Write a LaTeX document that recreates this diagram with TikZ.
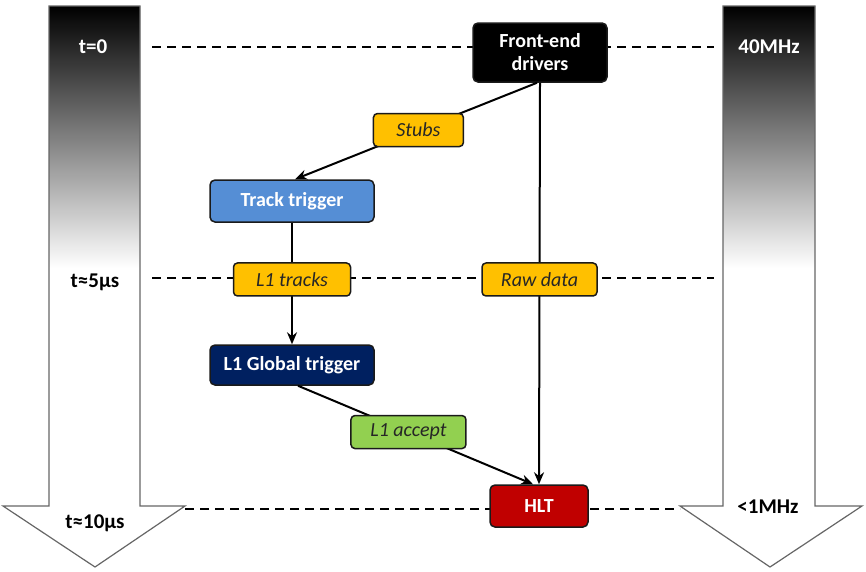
\documentclass[tikz,border=0pt]{standalone}
\usepackage{fontspec}
\setmainfont{Carlito}
\usetikzlibrary{arrows.meta,calc}
\definecolor{labY}{HTML}{FFC000}
\definecolor{labG}{HTML}{92D050}
\definecolor{ttBlue}{HTML}{558ED5}
\definecolor{navy}{HTML}{002060}
\definecolor{hltRed}{HTML}{C00000}
\definecolor{edge}{HTML}{1A1A1A}
\tikzset{
  box/.style={draw=edge, line width=1.5pt, rounded corners=5pt, align=center,
    text=white, font=\fontsize{20}{22}\selectfont\bfseries, inner sep=0pt},
  lab/.style={draw=edge, line width=1.5pt, rounded corners=4pt, fill=labY,
    text=black!85, font=\fontsize{20}{22}\selectfont\itshape, inner sep=0pt,
    minimum height=33pt},
  conn/.style={line width=2pt, draw=black},
  arr/.style={conn, -{Stealth[length=12pt,width=10pt]}},
  tdash/.style={line width=2pt, dash pattern=on 9pt off 6pt},
  bigarrow/.style={draw=black!60, line width=1.2pt, line join=miter},
  tlab/.style={font=\fontsize{21}{24}\selectfont\bfseries, inner sep=0pt}
}
\begin{document}
\begin{tikzpicture}[x=1pt,y=-1pt]
\useasboundingbox (0,0) rectangle (866,571);
% left time arrow
\fill[white] (49,6) -- (140,6) -- (140,506) -- (185,506) -- (95,567) -- (3,506) -- (49,506) -- cycle;
\shade[top color=black, bottom color=white] (49,6) rectangle (140,268);
\draw[bigarrow] (49,6) -- (140,6) -- (140,506) -- (185,506) -- (95,567) -- (3,506) -- (49,506) -- cycle;
% right rate arrow
\fill[white] (723,6) -- (815,6) -- (815,506) -- (862,506) -- (770,567) -- (680,506) -- (723,506) -- cycle;
\shade[top color=black, bottom color=white] (723,6) rectangle (815,268);
\draw[bigarrow] (723,6) -- (815,6) -- (815,506) -- (862,506) -- (770,567) -- (680,506) -- (723,506) -- cycle;
% arrow labels
\node[tlab, text=white] (t0) at (93,47) {t=0};
\node[tlab] (t5) at (95,282) {t≈5μs};
\node[tlab] (t10) at (95,523) {t≈10μs};
\node[tlab, text=white] (f40) at (769,47) {40MHz};
\node[tlab] (f1) at (768,507) {<1MHz};
% dashed time lines
\coordinate (d0a) at (152,47);  \coordinate (d0b) at (714,47);
\coordinate (d5a) at (152,278); \coordinate (d5b) at (714,278);
\coordinate (d10a) at (185,509); \coordinate (d10b) at (680,509);
\draw[tdash] (d0a) -- (d0b);
\draw[tdash] (d5a) -- (d5b);
\draw[tdash] (d10a) -- (d10b);
% main boxes
\node[box, fill=black, minimum width=134pt, minimum height=59pt] (fe) at (540,52.5) {Front-end\\[1pt]drivers};
\node[box, fill=ttBlue, minimum width=164pt, minimum height=42pt] (tt) at (292,201) {Track trigger};
\node[box, fill=navy, minimum width=164pt, minimum height=40pt] (l1g) at (292,365) {L1 Global trigger};
\node[box, fill=hltRed, minimum width=98pt, minimum height=42pt] (hlt) at (539,506) {HLT};
% connectors with labels
\draw[arr] ($(fe.south)+(-3,0)$) -- node[lab, minimum width=90pt, pos=0.49] (stubs) {Stubs} ($(tt.north)+(3,0)$);
\draw[arr] (tt.south) -- node[lab, minimum width=117pt, pos=0.467] (l1t) {L1 tracks} (l1g.north);
\draw[arr] (fe.south) -- node[lab, minimum width=115pt, pos=0.49] (raw) {Raw data} (hlt.north);
\draw[arr] ($(l1g.south)+(6,0)$) -- node[lab, fill=labG, minimum width=115pt, pos=0.47] (acc) {L1 accept} ($(hlt.north)+(-6,0)$);
\end{tikzpicture}
\end{document}
